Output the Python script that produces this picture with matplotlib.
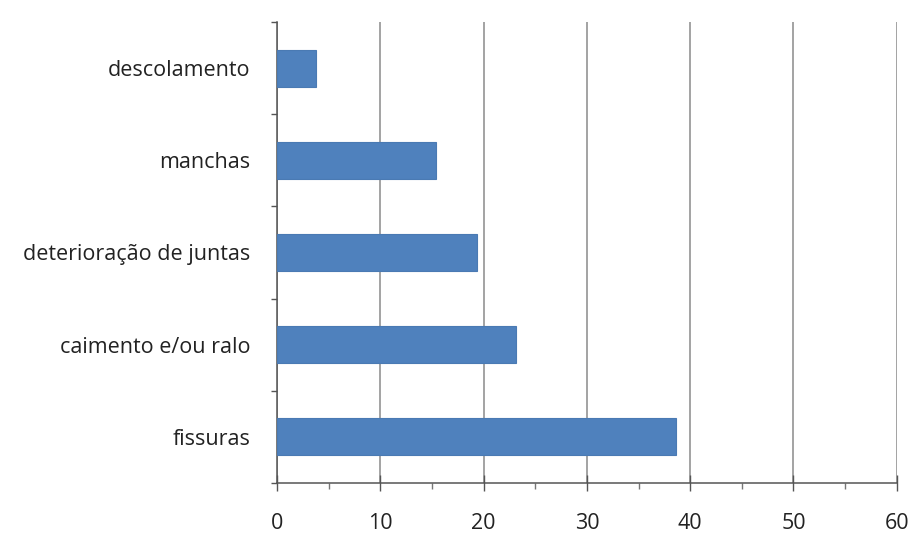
import matplotlib
matplotlib.use("Agg")
import matplotlib.pyplot as plt
from matplotlib.ticker import MultipleLocator

# categorias (de baixo para cima) e contagens
categorias = ["fissuras", "caimento e/ou ralo", "deterioração de juntas",
              "manchas", "descolamento"]
valores = [38.6, 23.1, 19.35, 15.4, 3.8]
xticks = [0, 10, 20, 30, 40, 50, 60]

plt.rcParams['font.family'] = ['Open Sans', 'DejaVu Sans']

fig = plt.figure(figsize=(9.15, 5.36), dpi=100)
ax = fig.add_axes([0.303, 0.099, 0.677, 0.860])

pos = range(len(categorias))
ax.barh(pos, valores, height=0.4, color="#4F81BD", edgecolor="#4A7AB3",
        linewidth=0.8, zorder=3)

ax.set_xlim(0, 60)
ax.set_ylim(-0.5, len(categorias) - 0.5)
ax.set_xticks(xticks)
ax.xaxis.set_minor_locator(MultipleLocator(5))
ax.grid(axis="x", color="#8a8a8a", linewidth=1.1, zorder=0)

# ticks do eixo y nas divisas entre categorias
ax.set_yticks([p - 0.5 for p in range(len(categorias) + 1)], minor=False)
ax.set_yticklabels([])
ax.set_yticks(list(pos), minor=True)
ax.set_yticklabels(categorias, minor=True)
ax.tick_params(axis="y", which="major", direction="out", length=4,
               width=1, color="#555555")
ax.tick_params(axis="y", which="minor", length=0, pad=19.5,
               labelsize=15.5, labelcolor="#222222")
ax.tick_params(axis="x", which="major", direction="inout", length=11,
               width=1, color="#555555", pad=16, labelsize=15.5,
               labelcolor="#222222")
ax.tick_params(axis="x", which="minor", direction="out", length=4.5,
               width=1, color="#777777")

for s in ["top", "right"]:
    ax.spines[s].set_visible(False)
for s in ["left", "bottom"]:
    ax.spines[s].set_color("#555555")
    ax.spines[s].set_linewidth(1.1)

plt.savefig("out.png", dpi=100)
